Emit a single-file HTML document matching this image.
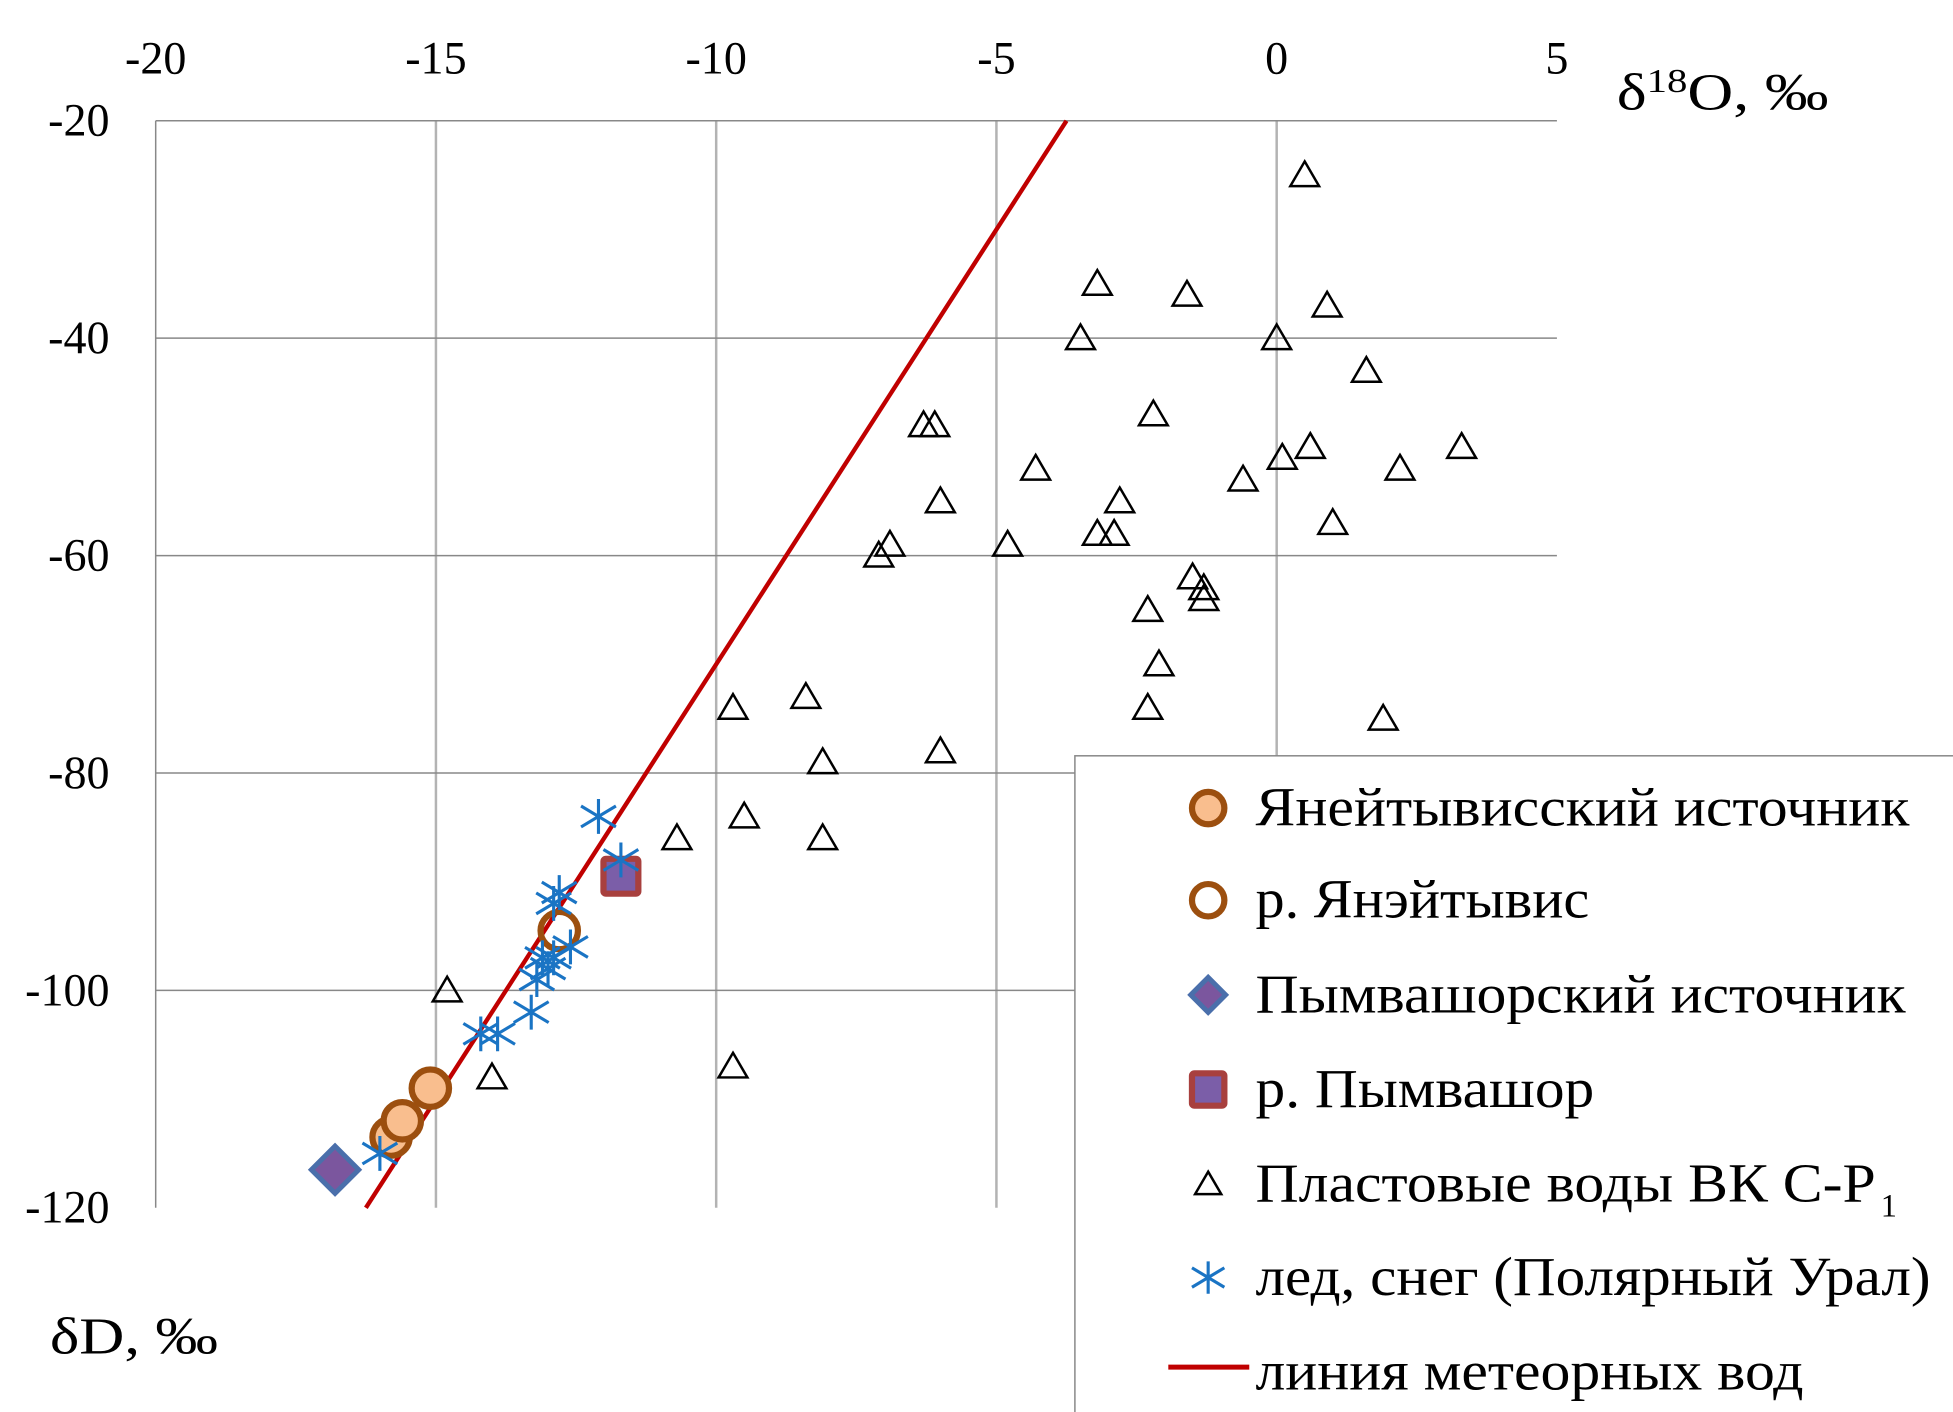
<!DOCTYPE html>
<html><head><meta charset="utf-8"><style>
html,body{margin:0;padding:0;background:#fff;}
svg{display:block;}
text{font-family:"Liberation Serif",serif;fill:#000;}
</style></head><body>
<svg id="chart" width="1953" height="1412" viewBox="0 0 1568 1134" preserveAspectRatio="none" xmlns="http://www.w3.org/2000/svg">
<g id="grid"></g>
<g id="axes"></g>
<g id="marks"></g>
<text x="1298" y="88" font-size="42" textLength="170" lengthAdjust="spacingAndGlyphs">δ<tspan font-size="27" dy="-14">18</tspan><tspan dy="14">O, ‰</tspan></text>
<text x="40" y="1087" font-size="42" textLength="135" lengthAdjust="spacingAndGlyphs">δD, ‰</text>
<g id="legend"></g>
</svg>
<script>
const xTicks=[-20,-15,-10,-5,0,5];
const yTicks=[-20,-40,-60,-80,-100,-120];
const triX=[0.5,-3.2,-1.6,0.9,-3.5,0,1.6,-2.2,-6.3,-6.1,0.6,3.3,0.1,-4.3,2.2,-0.6,-6,-2.8,1,-3.2,-2.9,-7.1,-6.9,-4.8,-1.5,-1.3,-1.3,-2.3,-2.1,-2.3,1.9,-9.7,-8.4,-8.1,-6,-9.5,-10.7,-8.1,-14.8,-14,-9.7];
const triY=[-25,-35,-36,-37,-40,-40,-43,-47,-48,-48,-50,-50,-51,-52,-52,-53,-55,-55,-57,-58,-58,-60,-59,-59,-62,-63,-64,-65,-70,-74,-75,-74,-73,-79,-78,-84,-86,-86,-100,-108,-107];
const iceX=[-12.1,-11.7,-12.8,-12.9,-13.1,-12.9,-12.6,-13.2,-13.0,-13.3,-14.2,-13.9,-16];
const iceY=[-84,-88,-91,-92,-97,-97,-96,-99,-98,-102,-104,-104,-115];
const springX=[-15.8,-15.6,-15.1];
const springY=[-113.5,-112,-109];
const riverX=[-12.8];const riverY=[-94.5];
const pymSpringX=[-16.8];const pymSpringY=[-116.5];
const pymRiverX=[-11.7];const pymRiverY=[-89.5];
const lineX=[-16.25,-3.75];const lineY=[-120,-20];

const NS="http://www.w3.org/2000/svg";
const X0=125,X1=1250,Y0=97,Y1=970;
const sx=v=>X0+(v+20)/25*(X1-X0);
const sy=v=>Y0+(-20-v)/100*(Y1-Y0);
function mk(tag,attrs,parent){const e=document.createElementNS(NS,tag);for(const k in attrs)e.setAttribute(k,attrs[k]);parent.appendChild(e);return e;}
const grid=document.getElementById('grid'),axes=document.getElementById('axes'),marks=document.getElementById('marks'),legend=document.getElementById('legend');
xTicks.forEach(t=>{
  if(t>-20&&t<5){const l=mk('line',{x1:sx(t),x2:sx(t),y1:Y0,y2:Y1,stroke:'#b3b3b3','stroke-width':2},grid);
  
  }
  const tx=mk('text',{x:sx(t),y:59,'font-size':37,'text-anchor':'middle'},axes);tx.textContent=t;
  
  
});
yTicks.forEach(t=>{
  if(t<-20&&t>-120){const l=mk('line',{x1:X0,x2:X1,y1:sy(t),y2:sy(t),stroke:'#888','stroke-width':1.2},grid);
  
  }
  const tx=mk('text',{x:88,y:sy(t)+12,'font-size':37,'text-anchor':'end'},axes);tx.textContent=t;
  
  
});
const topLine=mk('line',{x1:X0,x2:X1,y1:Y0,y2:Y0,stroke:'#888','stroke-width':1.2},axes);


const leftLine=mk('line',{x1:X0,x2:X0,y1:Y0,y2:Y1,stroke:'#888','stroke-width':1.2},axes);



function tri(x,y,s,p){return mk('path',{d:`M${x},${y-s} L${x+s*1.05},${y+s*0.8} L${x-s*1.05},${y+s*0.8} Z`,fill:'none',stroke:'#000','stroke-width':2},p);}
function star(x,y,s,p){return mk('path',{d:`M${x},${y-s}V${y+s}M${x-s},${y-s*0.6}L${x+s},${y+s*0.6}M${x-s},${y+s*0.6}L${x+s},${y-s*0.6}`,stroke:'#1a74c4','stroke-width':2.5,fill:'none'},p);}
function circ(x,y,r,fill,p){return mk('circle',{cx:x,cy:y,r:r,fill:fill,stroke:'#9c4f0f','stroke-width':5},p);}
function diam(x,y,s,p){return mk('path',{d:`M${x},${y-s}L${x+s},${y}L${x},${y+s}L${x-s},${y}Z`,fill:'#7b569e',stroke:'#4a6fab','stroke-width':4},p);}
function sq(x,y,s,p){return mk('rect',{x:x-s,y:y-s,width:2*s,height:2*s,fill:'#7b5ea8',stroke:'#a8403e','stroke-width':5,rx:2},p);}

triX.forEach((v,i)=>{const e=tri(sx(v),sy(triY[i]),11,marks);

});
const ml=mk('line',{x1:sx(lineX[0]),y1:sy(lineY[0]),x2:sx(lineX[1]),y2:sy(lineY[1]),stroke:'#c00000','stroke-width':3.5},marks);


springX.forEach((v,i)=>{const e=circ(sx(v),sy(springY[i]),15,'#f9be8e',marks);

});
riverX.forEach((v,i)=>{const e=circ(sx(v),sy(riverY[i]),15,'none',marks);

});
pymSpringX.forEach((v,i)=>{const e=diam(sx(v),sy(pymSpringY[i]),19,marks);

});
pymRiverX.forEach((v,i)=>{const e=sq(sx(v),sy(pymRiverY[i]),14,marks);

});
iceX.forEach((v,i)=>{const e=star(sx(v),sy(iceY[i]),14,marks);

});

// legend
const lb=mk('rect',{x:863,y:607,width:720,height:540,fill:'#fff',stroke:'#888','stroke-width':1.2},legend);


const labels=['Янейтывисский источник','р. Янэйтывис','Пымвашорский источник','р. Пымвашор','Пластовые воды ВК С-Р','лед, снег (Полярный Урал)','линия метеорных вод'];
const widths=[525,268,522,272,498,542,440];
const rowsY=[649,723,799,875,951,1026,1102];
labels.forEach((s,i)=>{
  const y=rowsY[i];let m;
  if(i===0)m=circ(970,y,13,'#f9be8e',legend);
  else if(i===1)m=circ(970,y,13,'none',legend);
  else if(i===2)m=diam(970,y,14,legend);
  else if(i===3)m=sq(970,y,13,legend);
  else if(i===4)m=tri(970,y,10,legend);
  else if(i===5)m=star(970,y,13,legend);
  else m=mk('line',{x1:938,x2:1003,y1:y-4,y2:y-4,stroke:'#c00000','stroke-width':4},legend);
  
  
  const t=mk('text',{x:1008,y:y+14,'font-size':44,textLength:widths[i],lengthAdjust:'spacingAndGlyphs'},legend);
  t.textContent=s;
  
  
  if(i===4){const sub=mk('text',{x:1510,y:y+26,'font-size':26},legend);sub.textContent='1';
  
  }
});
</script>
</body></html>
